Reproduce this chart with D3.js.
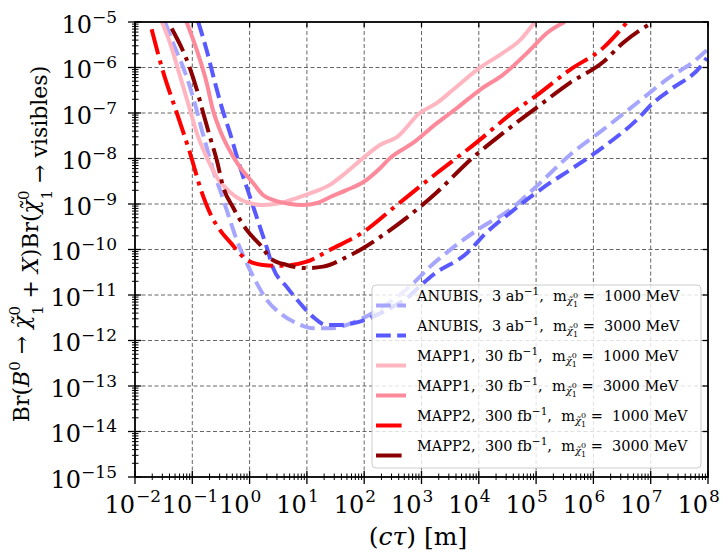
<!DOCTYPE html>
<html>
<head>
<meta charset="utf-8">
<script src="https://cdn.jsdelivr.net/npm/d3@7"></script>
<style>
body { margin: 0; background: #fff; }
svg text { font-family: "DejaVu Serif", "Liberation Serif", serif; fill: #000; white-space: pre; }
</style>
</head>
<body>
<div id="chart"></div>
<script>
let width = 725;
let height = 555;
let margin = ({top: 22, right: 17, bottom: 78, left: 135});

// curves: [c*tau in m, branching ratio]
let anubis_1000 = [[3.34e-2,1e-5],[4.6e-2,3.5e-6],[6.9e-2,1.02e-6],[9.12e-2,3.7e-7],[0.119,1.17e-7],[0.146,4.3e-8],
    [0.178,1.78e-8],[0.23,5.6e-9],[0.304,2.04e-9],[0.398,7.4e-10],[0.596,1.62e-10],[0.891,5.0e-11],[1.33,1.82e-11],
    [1.99,7.8e-12],[3.39,4.0e-12],[6.61,2.4e-12],[12.9,1.86e-12],[25.1,1.86e-12],[49,2.19e-12],[95.5,3.1e-12],
    [191,5.1e-12],[372,9.1e-12],[724,1.82e-11],[1.41e3,4.2e-11],[3.16e3,9.8e-11],[1.05e4,2.95e-10],[3.47e4,7.4e-10],
    [1.17e5,2.9e-9],[3.89e5,1.2e-8],[1.48e6,4.3e-8],[5.75e6,1.66e-7],[2.19e7,6.2e-7],[5.5e7,1.32e-6],[9.5e7,2.4e-6]];
let anubis_3000 = [[0.127,1e-5],[0.178,2.4e-6],[0.249,4.6e-7],[0.326,1.35e-7],[0.455,3.6e-8],[0.681,6.5e-9],
    [1.02,1.41e-9],[1.52,3.1e-10],[1.99,1.12e-10],[2.56,4.0e-11],[4.44,1.51e-11],[7.59,6.6e-12],[12.8,3.3e-12],
    [22.1,2.19e-12],[37.8,2.19e-12],[63.8,2.4e-12],[126,3.1e-12],[245,4.7e-12],[550,8.5e-12],[1.07e3,1.82e-11],
    [1.58e3,2.75e-11],[6.17e3,8.3e-11],[1.38e4,2.4e-10],[3.47e4,6.3e-10],[8.9e4,1.58e-9],[1.74e5,2.9e-9],
    [3.89e5,5.6e-9],[1.48e6,1.78e-8],[5.75e6,7.1e-8],[1.1e7,1.66e-7],[2.19e7,3.24e-7],[8.3e7,1.26e-6],[9.5e7,1.62e-6]];
let mapp1_1000 = [[2.95e-2,1e-5],[4.07e-2,3.5e-6],[6.17e-2,6.2e-7],[9.12e-2,1.17e-7],[0.120,3.6e-8],[0.178,1.07e-8],
    [0.267,3.9e-9],[0.457,1.82e-9],[0.891,1.1e-9],[1.71,9.5e-10],[3.39,1.05e-9],[6.61,1.35e-9],[12.9,1.82e-9],
    [25.1,2.63e-9],[49,5.0e-9],[95.5,1.02e-8],[191,2.0e-8],[372,2.95e-8],[933,1.0e-7],[1.86e3,1.66e-7],
    [3.55e3,3.24e-7],[9.3e3,8.9e-7],[2.63e4,2.1e-6],[5.25e4,4.0e-6],[9.5e4,1e-5]];
let mapp1_3000 = [[7.94e-2,1e-5],[0.120,2.4e-6],[0.178,4.6e-7],[0.229,1.17e-7],[0.302,4.3e-8],[0.417,1.78e-8],
    [0.676,6.5e-9],[1.15,2.9e-9],[1.71,1.58e-9],[2.57,1.23e-9],[5.07,1.0e-9],[8.5,9.5e-10],[15.1,1.05e-9],
    [25.1,1.41e-9],[50.1,2.04e-9],[95.5,3.0e-9],[191,6.2e-9],[282,1.02e-8],[708,2.2e-8],[1.86e3,6.0e-8],
    [4.17e3,1.29e-7],[1.05e4,3.24e-7],[2.63e4,6.9e-7],[7.76e4,2.4e-6],[1.55e5,5.75e-6],[3.16e5,1e-5]];
let mapp2_1000 = [[1.95e-2,6.9e-6],[3.09e-2,8.1e-7],[5.37e-2,1.0e-7],[9.12e-2,1.32e-8],[0.146,1.82e-9],[0.204,6.3e-10],
    [0.302,2.69e-10],[0.457,1.45e-10],[0.90,5.9e-11],[1.71,4.57e-11],[3.39,4.37e-11],[10,5.4e-11],[25.1,9.8e-11],
    [95.5,2.4e-10],[372,9.5e-10],[1.86e3,4.8e-9],[9.3e3,2.29e-8],[3.47e4,9.1e-8],[1.05e5,2.5e-7],[3.89e5,8.9e-7],
    [1.48e6,2.7e-6],[3.89e6,1e-5]];
let mapp2_3000 = [[4.37e-2,7.2e-6],[9.12e-2,9.5e-7],[0.120,3.24e-7],[0.155,1.0e-7],[0.204,2.95e-8],[0.267,9.3e-9],
    [0.347,2.34e-9],[0.513,8.5e-10],[0.891,2.69e-10],[1.71,1.07e-10],[2.27,6.5e-11],[4.47,4.57e-11],[10,3.9e-11],
    [19.1,4.2e-11],[50.1,6.9e-11],[95.5,1.07e-10],[251,2.4e-10],[562,5.1e-10],[1.86e3,1.82e-9],[7.08e3,9.3e-9],
    [2.63e4,3.6e-8],[1.05e5,1.35e-7],[3.89e5,4.6e-7],[1.48e6,1.32e-6],[3.31e6,3.5e-6],[1.1e7,1e-5]];

let experiments = ["ANUBIS", "ANUBIS", "MAPP1", "MAPP1", "MAPP2", "MAPP2"];
let lumis = ["3", "3", "30", "30", "300", "300"];
let lumi_units = ["ab", "ab", "fb", "fb", "fb", "fb"];
let masses = ["1000", "3000", "1000", "3000", "1000", "3000"];
let curves = [anubis_1000, anubis_3000, mapp1_1000, mapp1_3000, mapp2_1000, mapp2_3000];
let colors = ["#a6a6ff", "#5959ff", "#ffb6c1", "#fd8a9b", "#ff0000", "#8b0000"];
let dashes = ["14.8,6.4", "14.8,6.4", null, null, "25.6,6.4,4,6.4", "25.6,6.4,4,6.4"];

let x_exps = d3.range(-2, 9);     // 10^-2 .. 10^8
let y_exps = d3.range(-15, -4);   // 10^-15 .. 10^-5

let x = d3.scaleLog().domain([1e-2, 1e8]).range([margin.left, width - margin.right]);
let y = d3.scaleLog().domain([1e-15, 1e-5]).range([height - margin.bottom, margin.top]);

let svg = d3.select("#chart").append("svg")
    .attr("width", width).attr("height", height);

let x0 = x.range()[0], x1 = x.range()[1], y0 = y.range()[0], y1 = y.range()[1];

svg.append("clipPath").attr("id", "plotclip")
   .append("rect").attr("x", x0).attr("y", y1).attr("width", x1 - x0).attr("height", y0 - y1);

// grid
let grid = svg.append("g").attr("stroke", "#666").attr("stroke-width", 1).attr("stroke-dasharray", "4,2.5");
grid.selectAll(".vg").data(x_exps.slice(1, -1)).join("line")
    .attr("x1", d => x(10 ** d)).attr("x2", d => x(10 ** d)).attr("y1", y0).attr("y2", y1);
grid.selectAll(".hg").data(y_exps.slice(1, -1)).join("line")
    .attr("y1", d => y(10 ** d)).attr("y2", d => y(10 ** d)).attr("x1", x0).attr("x2", x1);

// curves
let line = d3.line().x(d => x(d[0])).y(d => y(d[1])).curve(d3.curveMonotoneX);
svg.append("g").attr("clip-path", "url(#plotclip)")
   .selectAll("path").data(curves).join("path")
   .attr("d", line)
   .attr("fill", "none")
   .attr("stroke", (d, i) => colors[i])
   .attr("stroke-width", 4)
   .attr("stroke-dasharray", (d, i) => dashes[i]);

// ticks
let minor = (lo, hi) => d3.range(lo, hi).flatMap(e => d3.range(2, 10).map(m => m * 10 ** e));
let ticks = svg.append("g").attr("stroke", "#000");
ticks.selectAll(".xmaj").data(x_exps).join("line")
     .attr("x1", d => x(10 ** d)).attr("x2", d => x(10 ** d)).attr("y1", y0 - 6).attr("y2", y0 + 7).attr("stroke-width", 1.3);
ticks.selectAll(".xmin").data(minor(-2, 8)).join("line")
     .attr("x1", d => x(d)).attr("x2", d => x(d)).attr("y1", y0 - 3.5).attr("y2", y0 + 3).attr("stroke-width", 1);
ticks.selectAll(".ymaj").data(y_exps).join("line")
     .attr("y1", d => y(10 ** d)).attr("y2", d => y(10 ** d)).attr("x1", x0 - 7).attr("x2", x0 + 6).attr("stroke-width", 1.3);
ticks.selectAll(".ymin").data(minor(-15, -5)).join("line")
     .attr("y1", d => y(d)).attr("y2", d => y(d)).attr("x1", x0 - 3).attr("x2", x0 + 3.5).attr("stroke-width", 1);
ticks.selectAll(".ymajr").data(y_exps).join("line")
     .attr("y1", d => y(10 ** d)).attr("y2", d => y(10 ** d)).attr("x1", x1 - 5).attr("x2", x1).attr("stroke-width", 1.3);
ticks.selectAll(".xmajt").data(x_exps).join("line")
     .attr("x1", d => x(10 ** d)).attr("x2", d => x(10 ** d)).attr("y1", y1).attr("y2", y1 + 5).attr("stroke-width", 1.3);

svg.append("rect").attr("x", x0).attr("y", y1).attr("width", x1 - x0).attr("height", y0 - y1)
   .attr("fill", "none").attr("stroke", "#000").attr("stroke-width", 1.8);

let minus = e => String(e).replace("-", "\u2212");

// x tick labels: "10" ends at the tick, exponent after it
let xl = svg.append("g");
xl.selectAll(".b").data(x_exps).join("text")
  .attr("x", d => x(10 ** d)).attr("y", 513).attr("text-anchor", "end").attr("font-size", 24).text("10");
xl.selectAll(".e").data(x_exps).join("text")
  .attr("x", d => x(10 ** d) + 1).attr("y", 502).attr("font-size", 17).text(d => minus(d));

// y tick labels
svg.append("g").selectAll("text").data(y_exps).join("text")
   .attr("x", 117).attr("y", d => y(10 ** d) + 10.5).attr("text-anchor", "end")
   .each(function(d) {
       let t = d3.select(this);
       t.append("tspan").attr("font-size", 24).text("10");
       t.append("tspan").attr("font-size", 17).attr("dy", -10).text(minus(d));
   });

// x axis label
let xt = svg.append("text").attr("x", 418).attr("y", 545).attr("text-anchor", "middle").attr("font-size", 25);
xt.append("tspan").text("(");
xt.append("tspan").attr("font-style", "italic").text("c\u03C4");
xt.append("tspan").text(") [m]");

// y axis label
let chi = (t, size, up, down) => {
    t.append("tspan").attr("font-style", "italic").text("\u03C7\u0303");
    t.append("tspan").attr("font-size", size).attr("dy", -up).text("0");
    t.append("tspan").attr("font-size", size).attr("dx", -size * 0.6).attr("dy", up + down).text("1");
};
let yt = svg.append("text").attr("transform", "translate(29,244) rotate(-90)")
    .attr("text-anchor", "middle").attr("font-size", 22);
yt.append("tspan").text("Br(");
yt.append("tspan").attr("font-style", "italic").text("B");
yt.append("tspan").attr("font-size", 15).attr("dy", -9).text("0");
yt.append("tspan").attr("dy", 9).text(" \u2192 ");
chi(yt, 15, 9, 14);
yt.append("tspan").attr("dy", -5).text(" + ");
yt.append("tspan").attr("font-style", "italic").text("X");
yt.append("tspan").text(")Br(");
chi(yt, 15, 9, 14);
yt.append("tspan").attr("dy", -5).text(" \u2192 visibles)");

// legend
let lg = svg.append("g");
lg.append("rect").attr("x", 372).attr("y", 285).attr("width", 329).attr("height", 183).attr("rx", 4)
  .attr("fill", "#fff").attr("fill-opacity", 0.8).attr("stroke", "#ccc").attr("stroke-width", 1);
curves.forEach((c, i) => {
    let by = 301 + i * 30;
    lg.append("line").attr("x1", 376).attr("x2", 406).attr("y1", by + 4.5).attr("y2", by + 4.5)
      .attr("stroke", colors[i]).attr("stroke-width", 4).attr("stroke-dasharray", dashes[i]);
    let t = lg.append("text").attr("x", 417).attr("y", by).attr("font-size", 14.5);
    t.append("tspan").text(`${experiments[i]},  ${lumis[i]} ${lumi_units[i]}`);
    t.append("tspan").attr("font-size", 10.5).attr("dy", -6).text("\u22121");
    t.append("tspan").attr("dy", 6).text(",  m");
    t.append("tspan").attr("font-size", 10).attr("font-style", "italic").attr("dy", 3).text("\u03C7\u0303");
    t.append("tspan").attr("font-size", 8).attr("dy", -6).text("0");
    t.append("tspan").attr("font-size", 8).attr("dx", -5).attr("dy", 9).text("1");
    t.append("tspan").attr("dy", -6).text(` =  ${masses[i]} MeV`);
});
</script>
</body>
</html>
